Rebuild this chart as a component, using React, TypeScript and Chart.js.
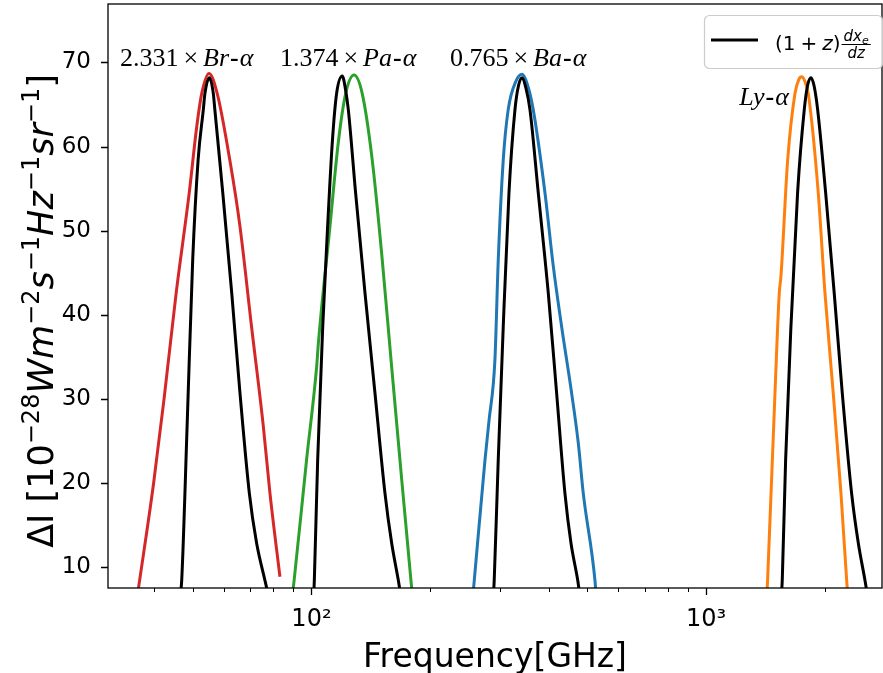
import { useEffect, useRef } from 'react';
import { Chart, registerables } from 'chart.js';
Chart.register(...registerables);

// ---------- data (frequency in GHz, ΔI in 1e-28 W m^-2 s^-1 Hz^-1 sr^-1) ----------
const brFreq = [36.3, 39.8, 42.3, 45.4, 49.0, 51.2, 52.7, 55.0, 57.7, 62.1, 65.9, 70.5, 75.5, 78.5, 83.2];
const brInt = [7.0, 20.0, 30.0, 42.6, 54.5, 62.4, 66.3, 68.7, 66.3, 58.4, 50.5, 38.6, 26.8, 18.8, 8.9];

const brBlackFreq = [46.6, 46.9, 48.4, 50.0, 51.6, 53.2, 53.7, 55.1, 56.4, 56.9, 59.6, 62.8, 65.9, 69.6, 72.6, 76.2, 77.5];
const brBlackInt = [7.0, 8.5, 26.8, 46.5, 58.4, 64.4, 66.3, 68.2, 66.3, 64.4, 54.5, 42.6, 30.7, 18.8, 12.9, 8.5, 7.0];

const paFreq = [89.6, 90.4, 97.2, 103.1, 104.1, 111.4, 116.9, 122.1, 128.2, 134.5, 142.6, 151.2, 159.1, 167.6, 178.7, 180.0];
const paInt = [7.0, 8.5, 22.8, 33.9, 36.6, 50.5, 60.4, 66.3, 68.5, 66.3, 58.4, 46.5, 34.7, 22.8, 8.5, 7.0];

const paBlackFreq = [101.4, 101.7, 103.7, 106.8, 109.9, 112.9, 115.8, 119.7, 122.0, 124.0, 129.4, 136.7, 144.9, 153.6, 159.7, 166.0, 168.0];
const paBlackInt = [7.0, 8.5, 22.8, 38.6, 50.5, 60.4, 66.3, 68.4, 66.8, 64.4, 54.5, 42.6, 30.7, 18.8, 12.9, 8.5, 7.0];

const baFreq = [257.0, 258.7, 275.4, 282.0, 291.8, 297.5, 306.3, 315.3, 330.0, 342.1, 352.0, 364.9, 390.8, 410.2, 430.7, 456.6, 474.6, 488.7, 523.1, 526.0];
const baInt = [7.0, 8.5, 22.8, 27.5, 34.7, 46.5, 58.4, 64.4, 67.8, 68.6, 67.5, 64.4, 54.5, 45.8, 38.6, 30.7, 24.8, 18.8, 8.5, 7.0];

const baBlackFreq = [289.5, 290.6, 297.5, 306.3, 316.7, 328.0, 335.0, 342.1, 349.5, 358.0, 375.8, 398.4, 418.3, 439.1, 454.8, 473.0, 478.0];
const baBlackInt = [7.0, 8.5, 22.8, 38.6, 54.5, 64.4, 67.3, 68.2, 67.0, 64.4, 54.5, 42.6, 30.7, 18.8, 12.9, 8.5, 7.0];

const lyFreq = [1428, 1433, 1496, 1534, 1549, 1611, 1681, 1720, 1748, 1780, 1817, 1926, 2003, 2102, 2199, 2273, 2285];
const lyInt = [7.0, 8.5, 30.7, 42.6, 44.6, 58.4, 66.3, 68.0, 68.3, 67.8, 66.3, 54.5, 42.6, 30.7, 18.8, 8.5, 7.0];

const lyBlackFreq = [1555, 1561, 1592, 1642, 1707, 1775, 1810, 1846, 1880, 1919, 2011, 2114, 2216, 2340, 2433, 2529, 2560];
const lyBlackInt = [7.0, 8.5, 22.8, 38.6, 54.5, 64.4, 67.3, 68.2, 67.2, 64.4, 54.5, 42.6, 30.7, 18.8, 12.9, 8.5, 7.0];

const yTicks = [10, 20, 30, 40, 50, 60, 70];
const xMajorTicks = [100, 1000];
const xMinorTicks = [40, 50, 60, 70, 80, 90, 200, 300, 400, 500, 600, 700, 800, 900, 2000];
const X_MIN = 30.5;
const X_MAX = 2794;
const Y_MIN = 7.56;
const Y_MAX = 76.95;

const lineLabels = [
  { coef: '2.331', name: 'Br', freq: 32.7, y: 66 },
  { coef: '1.374', name: 'Pa', freq: 83.2, y: 66 },
  { coef: '0.765', name: 'Ba', freq: 224.4, y: 66 },
  { coef: '', name: 'Ly', freq: 1215, y: 105 },
];

const pts = (xs: number[], ys: number[]) => xs.map((x, i) => ({ x, y: ys[i] }));

type Seg = { t: string; f: string; dy?: number; gb?: number; ga?: number };

function segWidth(ctx: CanvasRenderingContext2D, segs: Seg[]) {
  let w = 0;
  for (const s of segs) {
    ctx.font = s.f;
    w += (s.gb || 0) + ctx.measureText(s.t).width + (s.ga || 0);
  }
  return w;
}
function drawSegs(ctx: CanvasRenderingContext2D, segs: Seg[], x: number, y: number) {
  let cx = x;
  for (const s of segs) {
    cx += s.gb || 0;
    ctx.font = s.f;
    ctx.fillText(s.t, cx, y + (s.dy || 0));
    cx += ctx.measureText(s.t).width + (s.ga || 0);
  }
  return cx;
}

const decorPlugin = {
  id: 'decor',
  afterDraw(chart: any) {
    const ctx: CanvasRenderingContext2D = chart.ctx;
    const { left, right, top, bottom } = chart.chartArea;
    const xs = chart.scales.x;
    const ys = chart.scales.y;
    ctx.save();
    ctx.fillStyle = '#000';
    ctx.strokeStyle = '#000';
    ctx.textAlign = 'left';
    ctx.textBaseline = 'alphabetic';

    // spines
    ctx.lineWidth = 1.3;
    ctx.strokeRect(left, top, right - left, bottom - top);

    // ticks
    ctx.lineWidth = 1.3;
    ctx.beginPath();
    for (const v of yTicks) {
      const py = Math.round(ys.getPixelForValue(v)) + 0.5;
      ctx.moveTo(left - 7, py);
      ctx.lineTo(left, py);
    }
    for (const v of xMajorTicks) {
      const px = Math.round(xs.getPixelForValue(v)) + 0.5;
      ctx.moveTo(px, bottom);
      ctx.lineTo(px, bottom + 7);
    }
    ctx.stroke();
    ctx.lineWidth = 1;
    ctx.beginPath();
    for (const v of xMinorTicks) {
      const px = Math.round(xs.getPixelForValue(v)) + 0.5;
      ctx.moveTo(px, bottom);
      ctx.lineTo(px, bottom + 4);
    }
    ctx.stroke();

    // line labels
    const serif = '26px "Liberation Serif"';
    const serifI = 'italic 26px "Liberation Serif"';
    const serifB = 'bold 26px "Liberation Serif"';
    for (const l of lineLabels) {
      const segs: Seg[] = [];
      if (l.coef) {
        segs.push({ t: l.coef, f: serif });
        segs.push({ t: '×', f: serif, gb: 5, ga: 5 });
      }
      segs.push({ t: l.name, f: serifI });
      segs.push({ t: '-', f: serifB, gb: 1, ga: 1 });
      segs.push({ t: 'α', f: serifI });
      drawSegs(ctx, segs, xs.getPixelForValue(l.freq), l.y);
    }

    // y-axis title
    const b = '35px "DejaVu Sans"';
    const bi = 'italic 35px "DejaVu Sans"';
    const sp = '24px "DejaVu Sans"';
    const up = -14;
    const ySegs: Seg[] = [
      { t: 'ΔI [10', f: b },
      { t: '−28', f: sp, dy: up },
      { t: 'Wm', f: bi },
      { t: '−2', f: sp, dy: up },
      { t: 's', f: bi },
      { t: '−1', f: sp, dy: up },
      { t: 'Hz', f: bi },
      { t: '−1', f: sp, dy: up },
      { t: 'sr', f: bi },
      { t: '−1', f: sp, dy: up },
      { t: ']', f: b },
    ];
    ctx.save();
    ctx.translate(53, (top + bottom) / 2 + 15);
    ctx.rotate(-Math.PI / 2);
    const tw = segWidth(ctx, ySegs);
    drawSegs(ctx, ySegs, -tw / 2, 0);
    ctx.restore();

    // legend
    const lx = 704, ly = 15, lw = 178, lh = 53;
    ctx.fillStyle = 'rgba(255,255,255,0.8)';
    ctx.strokeStyle = '#cccccc';
    ctx.lineWidth = 1.2;
    ctx.beginPath();
    (ctx as any).roundRect(lx + 0.5, ly + 0.5, lw, lh, 5);
    ctx.fill();
    ctx.stroke();
    ctx.strokeStyle = '#000';
    ctx.lineWidth = 3;
    ctx.beginPath();
    ctx.moveTo(711, 40);
    ctx.lineTo(758, 40);
    ctx.stroke();
    ctx.fillStyle = '#000';
    const lf = '20px "DejaVu Sans"';
    const lfi = 'italic 20px "DejaVu Sans"';
    const endX = drawSegs(ctx, [
      { t: '(1', f: lf },
      { t: '+', f: lf, gb: 5, ga: 5 },
      { t: 'z', f: lfi },
      { t: ')', f: lf },
    ], 775, 50);
    const ff = 'italic 15px "DejaVu Sans"';
    const fs = 'italic 11px "DejaVu Sans"';
    const numW = segWidth(ctx, [{ t: 'dx', f: ff }, { t: 'e', f: fs }]);
    ctx.font = ff;
    const denW = ctx.measureText('dz').width;
    const fw = Math.max(numW, denW) + 4;
    const fx = endX + 1;
    drawSegs(ctx, [{ t: 'dx', f: ff }, { t: 'e', f: fs, dy: 3 }], fx + (fw - numW) / 2, 41);
    ctx.font = ff;
    ctx.fillText('dz', fx + (fw - denW) / 2, 58);
    ctx.lineWidth = 1;
    ctx.beginPath();
    ctx.moveTo(fx, 44.5);
    ctx.lineTo(fx + fw, 44.5);
    ctx.stroke();

    ctx.restore();
  },
};

const zeroPad = (s: any) => {
  s.paddingTop = 0;
  s.paddingBottom = 0;
  s.paddingLeft = 0;
  s.paddingRight = 0;
};

export default function App() {
  const ref = useRef<HTMLCanvasElement>(null);
  useEffect(() => {
    if (!ref.current) return;
    const mk = (data: any, color: string, order: number) => ({
      data,
      borderColor: color,
      backgroundColor: color,
      borderWidth: 3,
      pointRadius: 0,
      fill: false,
      order,
      cubicInterpolationMode: 'monotone',
    });
    const chart = new Chart(ref.current, {
      type: 'line',
      data: {
        datasets: [
          mk(pts(brBlackFreq, brBlackInt), '#000000', 0),
          mk(pts(paBlackFreq, paBlackInt), '#000000', 0),
          mk(pts(baBlackFreq, baBlackInt), '#000000', 0),
          mk(pts(lyBlackFreq, lyBlackInt), '#000000', 0),
          mk(pts(brFreq, brInt), '#d62728', 1),
          mk(pts(paFreq, paInt), '#2ca02c', 1),
          mk(pts(baFreq, baInt), '#1f77b4', 1),
          mk(pts(lyFreq, lyInt), '#ff7f0e', 1),
        ] as any,
      },
      options: {
        animation: false,
        responsive: false,
        devicePixelRatio: 1,
        layout: { padding: { left: 0, top: 4, right: 1, bottom: 0 } },
        plugins: { legend: { display: false }, tooltip: { enabled: false } },
        scales: {
          x: {
            type: 'logarithmic',
            min: X_MIN,
            max: X_MAX,
            grid: { display: false },
            border: { display: false },
            ticks: {
              autoSkip: false,
              maxRotation: 0,
              padding: 9,
              color: '#000',
              font: { family: 'DejaVu Sans', size: 24 },
              callback: (v: any) => (v === 100 ? '10²' : v === 1000 ? '10³' : ''),
            },
            title: {
              display: true,
              text: 'Frequency[GHz]',
              color: '#000',
              font: { family: 'DejaVu Sans', size: 33 },
              padding: { top: 0, bottom: -5 },
            },
            afterFit: (s: any) => { s.height = 85; zeroPad(s); },
          },
          y: {
            min: Y_MIN,
            max: Y_MAX,
            grid: { display: false },
            border: { display: false },
            ticks: {
              stepSize: 10,
              includeBounds: false,
              padding: 9,
              color: '#000',
              font: { family: 'DejaVu Sans', size: 23 },
            },
            afterFit: (s: any) => { s.width = 108; zeroPad(s); },
          },
        },
      } as any,
      plugins: [decorPlugin],
    });
    return () => chart.destroy();
  }, []);
  return (
    <div style={{ position: 'fixed', left: 0, top: 0, width: 883, height: 673, background: '#fff' }}>
      <canvas ref={ref} width={883} height={673} style={{ display: 'block' }} />
    </div>
  );
}
